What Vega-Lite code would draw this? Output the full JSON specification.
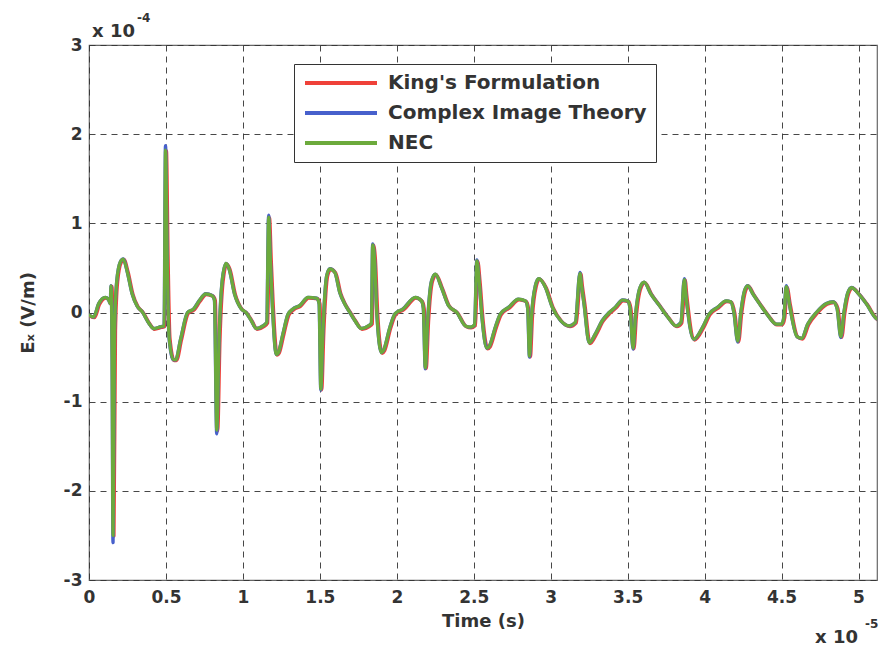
{
  "$schema": "https://vega.github.io/schema/vega-lite/v6.json",
  "width": 788,
  "height": 535,
  "autosize": {"type": "none"},
  "padding": {"left": 89, "top": 45, "right": 3, "bottom": 67},
  "background": "white",
  "config": {
    "font": "DejaVu Sans",
    "view": {"stroke": "#666666", "strokeWidth": 1.2},
    "axis": {
      "labelFont": "DejaVu Sans",
      "labelFontSize": 17,
      "labelFontWeight": "bold",
      "labelColor": "#333333",
      "titleFont": "DejaVu Sans",
      "titleFontSize": 18,
      "titleFontWeight": "bold",
      "titleColor": "#333333",
      "domain": false,
      "ticks": false,
      "gridColor": "#333333",
      "gridDash": [6, 5],
      "gridWidth": 1,
      "gridOpacity": 0.9
    }
  },
  "datasets": {
    "ex": [
      {"t": 0, "king": -0.03, "cit": -0.03, "nec": -0.03},
      {"t": 0.03, "king": -0.05, "cit": -0.05, "nec": -0.05},
      {"t": 0.063, "king": 0.10, "cit": 0.10, "nec": 0.10},
      {"t": 0.106, "king": 0.17, "cit": 0.17, "nec": 0.17},
      {"t": 0.128, "king": 0.14, "cit": 0.14, "nec": 0.14},
      {"t": 0.138, "king": 0.10, "cit": 0.10, "nec": 0.10},
      {"t": 0.143, "king": 0.30, "cit": 0.30, "nec": 0.30},
      {"t": 0.150, "king": -0.5, "cit": -0.5, "nec": -0.5},
      {"t": 0.156, "king": -2.50, "cit": -2.58, "nec": -2.50},
      {"t": 0.166, "king": -0.2, "cit": -0.2, "nec": -0.2},
      {"t": 0.18, "king": 0.35, "cit": 0.35, "nec": 0.35},
      {"t": 0.204, "king": 0.57, "cit": 0.57, "nec": 0.57},
      {"t": 0.222, "king": 0.60, "cit": 0.60, "nec": 0.60},
      {"t": 0.248, "king": 0.46, "cit": 0.46, "nec": 0.46},
      {"t": 0.28, "king": 0.21, "cit": 0.21, "nec": 0.21},
      {"t": 0.313, "king": 0.07, "cit": 0.07, "nec": 0.07},
      {"t": 0.345, "king": 0.01, "cit": 0.01, "nec": 0.01},
      {"t": 0.389, "king": -0.12, "cit": -0.12, "nec": -0.12},
      {"t": 0.42, "king": -0.18, "cit": -0.18, "nec": -0.18},
      {"t": 0.465, "king": -0.16, "cit": -0.16, "nec": -0.16},
      {"t": 0.488, "king": -0.15, "cit": -0.15, "nec": -0.15},
      {"t": 0.497, "king": 1.82, "cit": 1.87, "nec": 1.82},
      {"t": 0.508, "king": 0.6, "cit": 0.6, "nec": 0.6},
      {"t": 0.52, "king": -0.28, "cit": -0.28, "nec": -0.28},
      {"t": 0.548, "king": -0.53, "cit": -0.53, "nec": -0.53},
      {"t": 0.563, "king": -0.53, "cit": -0.53, "nec": -0.53},
      {"t": 0.595, "king": -0.30, "cit": -0.30, "nec": -0.30},
      {"t": 0.64, "king": 0.0, "cit": 0.0, "nec": 0.0},
      {"t": 0.68, "king": 0.04, "cit": 0.04, "nec": 0.04},
      {"t": 0.715, "king": 0.13, "cit": 0.13, "nec": 0.13},
      {"t": 0.758, "king": 0.21, "cit": 0.21, "nec": 0.21},
      {"t": 0.80, "king": 0.19, "cit": 0.19, "nec": 0.19},
      {"t": 0.815, "king": 0.14, "cit": 0.14, "nec": 0.14},
      {"t": 0.83, "king": -1.32, "cit": -1.36, "nec": -1.32},
      {"t": 0.845, "king": -0.3, "cit": -0.3, "nec": -0.3},
      {"t": 0.865, "king": 0.35, "cit": 0.35, "nec": 0.35},
      {"t": 0.89, "king": 0.55, "cit": 0.55, "nec": 0.55},
      {"t": 0.91, "king": 0.49, "cit": 0.49, "nec": 0.49},
      {"t": 0.945, "king": 0.21, "cit": 0.21, "nec": 0.21},
      {"t": 0.99, "king": 0.04, "cit": 0.04, "nec": 0.04},
      {"t": 1.02, "king": 0.0, "cit": 0.0, "nec": 0.0},
      {"t": 1.054, "king": -0.09, "cit": -0.09, "nec": -0.09},
      {"t": 1.087, "king": -0.18, "cit": -0.18, "nec": -0.18},
      {"t": 1.13, "king": -0.15, "cit": -0.15, "nec": -0.15},
      {"t": 1.155, "king": -0.11, "cit": -0.11, "nec": -0.11},
      {"t": 1.167, "king": 1.07, "cit": 1.09, "nec": 1.07},
      {"t": 1.178, "king": 0.6, "cit": 0.6, "nec": 0.6},
      {"t": 1.19, "king": 0.13, "cit": 0.13, "nec": 0.13},
      {"t": 1.217, "king": -0.47, "cit": -0.47, "nec": -0.47},
      {"t": 1.23, "king": -0.45, "cit": -0.45, "nec": -0.45},
      {"t": 1.26, "king": -0.24, "cit": -0.24, "nec": -0.24},
      {"t": 1.293, "king": -0.02, "cit": -0.02, "nec": -0.02},
      {"t": 1.325, "king": 0.04, "cit": 0.04, "nec": 0.04},
      {"t": 1.37, "king": 0.08, "cit": 0.08, "nec": 0.08},
      {"t": 1.423, "king": 0.17, "cit": 0.17, "nec": 0.17},
      {"t": 1.48, "king": 0.16, "cit": 0.16, "nec": 0.16},
      {"t": 1.495, "king": 0.10, "cit": 0.10, "nec": 0.10},
      {"t": 1.506, "king": -0.86, "cit": -0.87, "nec": -0.86},
      {"t": 1.52, "king": -0.2, "cit": -0.2, "nec": -0.2},
      {"t": 1.545, "king": 0.42, "cit": 0.42, "nec": 0.42},
      {"t": 1.565, "king": 0.49, "cit": 0.49, "nec": 0.49},
      {"t": 1.597, "king": 0.45, "cit": 0.45, "nec": 0.45},
      {"t": 1.63, "king": 0.22, "cit": 0.22, "nec": 0.22},
      {"t": 1.66, "king": 0.10, "cit": 0.10, "nec": 0.10},
      {"t": 1.695, "king": 0.0, "cit": 0.0, "nec": 0.0},
      {"t": 1.727, "king": -0.09, "cit": -0.09, "nec": -0.09},
      {"t": 1.77, "king": -0.18, "cit": -0.18, "nec": -0.18},
      {"t": 1.815, "king": -0.15, "cit": -0.15, "nec": -0.15},
      {"t": 1.835, "king": -0.12, "cit": -0.12, "nec": -0.12},
      {"t": 1.843, "king": 0.76, "cit": 0.77, "nec": 0.76},
      {"t": 1.855, "king": 0.6, "cit": 0.6, "nec": 0.6},
      {"t": 1.87, "king": -0.01, "cit": -0.01, "nec": -0.01},
      {"t": 1.9, "king": -0.45, "cit": -0.45, "nec": -0.45},
      {"t": 1.915, "king": -0.42, "cit": -0.42, "nec": -0.42},
      {"t": 1.955, "king": -0.165, "cit": -0.165, "nec": -0.165},
      {"t": 1.988, "king": -0.015, "cit": -0.015, "nec": -0.015},
      {"t": 2.04, "king": 0.04, "cit": 0.04, "nec": 0.04},
      {"t": 2.12, "king": 0.17, "cit": 0.17, "nec": 0.17},
      {"t": 2.16, "king": 0.13, "cit": 0.13, "nec": 0.13},
      {"t": 2.172, "king": 0.05, "cit": 0.05, "nec": 0.05},
      {"t": 2.185, "king": -0.62, "cit": -0.63, "nec": -0.62},
      {"t": 2.2, "king": -0.1, "cit": -0.1, "nec": -0.1},
      {"t": 2.225, "king": 0.35, "cit": 0.35, "nec": 0.35},
      {"t": 2.25, "king": 0.43, "cit": 0.43, "nec": 0.43},
      {"t": 2.29, "king": 0.28, "cit": 0.28, "nec": 0.28},
      {"t": 2.335, "king": 0.08, "cit": 0.08, "nec": 0.08},
      {"t": 2.39, "king": 0.0, "cit": 0.0, "nec": 0.0},
      {"t": 2.445, "king": -0.15, "cit": -0.15, "nec": -0.15},
      {"t": 2.477, "king": -0.165, "cit": -0.165, "nec": -0.165},
      {"t": 2.505, "king": -0.14, "cit": -0.14, "nec": -0.14},
      {"t": 2.52, "king": 0.58, "cit": 0.59, "nec": 0.58},
      {"t": 2.535, "king": 0.35, "cit": 0.35, "nec": 0.35},
      {"t": 2.553, "king": -0.05, "cit": -0.05, "nec": -0.05},
      {"t": 2.585, "king": -0.40, "cit": -0.40, "nec": -0.40},
      {"t": 2.60, "king": -0.38, "cit": -0.38, "nec": -0.38},
      {"t": 2.64, "king": -0.165, "cit": -0.165, "nec": -0.165},
      {"t": 2.673, "king": -0.015, "cit": -0.015, "nec": -0.015},
      {"t": 2.727, "king": 0.06, "cit": 0.06, "nec": 0.06},
      {"t": 2.79, "king": 0.15, "cit": 0.15, "nec": 0.15},
      {"t": 2.836, "king": 0.13, "cit": 0.13, "nec": 0.13},
      {"t": 2.85, "king": 0.05, "cit": 0.05, "nec": 0.05},
      {"t": 2.862, "king": -0.49, "cit": -0.50, "nec": -0.49},
      {"t": 2.875, "king": -0.05, "cit": -0.05, "nec": -0.05},
      {"t": 2.90, "king": 0.3, "cit": 0.3, "nec": 0.3},
      {"t": 2.922, "king": 0.38, "cit": 0.38, "nec": 0.38},
      {"t": 2.966, "king": 0.28, "cit": 0.28, "nec": 0.28},
      {"t": 3.01, "king": 0.06, "cit": 0.06, "nec": 0.06},
      {"t": 3.064, "king": -0.09, "cit": -0.09, "nec": -0.09},
      {"t": 3.12, "king": -0.15, "cit": -0.15, "nec": -0.15},
      {"t": 3.16, "king": -0.11, "cit": -0.11, "nec": -0.11},
      {"t": 3.19, "king": 0.44, "cit": 0.45, "nec": 0.44},
      {"t": 3.2, "king": 0.3, "cit": 0.3, "nec": 0.3},
      {"t": 3.216, "king": 0.1, "cit": 0.1, "nec": 0.1},
      {"t": 3.25, "king": -0.34, "cit": -0.34, "nec": -0.34},
      {"t": 3.29, "king": -0.24, "cit": -0.24, "nec": -0.24},
      {"t": 3.335, "king": -0.09, "cit": -0.09, "nec": -0.09},
      {"t": 3.38, "king": 0.0, "cit": 0.0, "nec": 0.0},
      {"t": 3.42, "king": 0.06, "cit": 0.06, "nec": 0.06},
      {"t": 3.466, "king": 0.14, "cit": 0.14, "nec": 0.14},
      {"t": 3.5, "king": 0.13, "cit": 0.13, "nec": 0.13},
      {"t": 3.515, "king": 0.05, "cit": 0.05, "nec": 0.05},
      {"t": 3.535, "king": -0.40, "cit": -0.41, "nec": -0.40},
      {"t": 3.55, "king": -0.05, "cit": -0.05, "nec": -0.05},
      {"t": 3.58, "king": 0.28, "cit": 0.28, "nec": 0.28},
      {"t": 3.607, "king": 0.34, "cit": 0.34, "nec": 0.34},
      {"t": 3.65, "king": 0.21, "cit": 0.21, "nec": 0.21},
      {"t": 3.705, "king": 0.08, "cit": 0.08, "nec": 0.08},
      {"t": 3.76, "king": -0.05, "cit": -0.05, "nec": -0.05},
      {"t": 3.814, "king": -0.15, "cit": -0.15, "nec": -0.15},
      {"t": 3.846, "king": -0.11, "cit": -0.11, "nec": -0.11},
      {"t": 3.868, "king": 0.37, "cit": 0.38, "nec": 0.37},
      {"t": 3.878, "king": 0.2, "cit": 0.2, "nec": 0.2},
      {"t": 3.93, "king": -0.30, "cit": -0.30, "nec": -0.30},
      {"t": 3.987, "king": -0.165, "cit": -0.165, "nec": -0.165},
      {"t": 4.03, "king": -0.015, "cit": -0.015, "nec": -0.015},
      {"t": 4.085, "king": 0.06, "cit": 0.06, "nec": 0.06},
      {"t": 4.14, "king": 0.13, "cit": 0.13, "nec": 0.13},
      {"t": 4.17, "king": 0.12, "cit": 0.12, "nec": 0.12},
      {"t": 4.19, "king": 0.0, "cit": 0.0, "nec": 0.0},
      {"t": 4.215, "king": -0.32, "cit": -0.33, "nec": -0.32},
      {"t": 4.235, "king": 0.0, "cit": 0.0, "nec": 0.0},
      {"t": 4.26, "king": 0.25, "cit": 0.25, "nec": 0.25},
      {"t": 4.28, "king": 0.30, "cit": 0.30, "nec": 0.30},
      {"t": 4.313, "king": 0.21, "cit": 0.21, "nec": 0.21},
      {"t": 4.356, "king": 0.10, "cit": 0.10, "nec": 0.10},
      {"t": 4.41, "king": -0.03, "cit": -0.03, "nec": -0.03},
      {"t": 4.465, "king": -0.13, "cit": -0.13, "nec": -0.13},
      {"t": 4.5, "king": -0.13, "cit": -0.13, "nec": -0.13},
      {"t": 4.515, "king": -0.05, "cit": -0.05, "nec": -0.05},
      {"t": 4.53, "king": 0.29, "cit": 0.30, "nec": 0.29},
      {"t": 4.55, "king": 0.1, "cit": 0.1, "nec": 0.1},
      {"t": 4.60, "king": -0.27, "cit": -0.27, "nec": -0.27},
      {"t": 4.63, "king": -0.29, "cit": -0.29, "nec": -0.29},
      {"t": 4.67, "king": -0.13, "cit": -0.13, "nec": -0.13},
      {"t": 4.726, "king": 0.0, "cit": 0.0, "nec": 0.0},
      {"t": 4.79, "king": 0.10, "cit": 0.10, "nec": 0.10},
      {"t": 4.835, "king": 0.12, "cit": 0.12, "nec": 0.12},
      {"t": 4.86, "king": 0.05, "cit": 0.05, "nec": 0.05},
      {"t": 4.885, "king": -0.27, "cit": -0.28, "nec": -0.27},
      {"t": 4.905, "king": 0.0, "cit": 0.0, "nec": 0.0},
      {"t": 4.93, "king": 0.22, "cit": 0.22, "nec": 0.22},
      {"t": 4.955, "king": 0.28, "cit": 0.28, "nec": 0.28},
      {"t": 5.0, "king": 0.21, "cit": 0.21, "nec": 0.21},
      {"t": 5.05, "king": 0.10, "cit": 0.10, "nec": 0.10},
      {"t": 5.117, "king": -0.07, "cit": -0.07, "nec": -0.07},
      {"t": 5.13, "king": -0.08, "cit": -0.08, "nec": -0.08}
    ]
  },
  "data": {"name": "ex"},
  "encoding": {
    "x": {
      "field": "t",
      "type": "quantitative",
      "scale": {"domain": [0, 5.12], "nice": false, "zero": false},
      "axis": {
        "values": [0, 0.5, 1, 1.5, 2, 2.5, 3, 3.5, 4, 4.5, 5],
        "format": "~g",
        "title": "Time (s)",
        "labelPadding": 9,
        "titlePadding": 7,
        "labelFlush": false
      }
    }
  },
  "layer": [
    {
      "mark": {"type": "line", "strokeWidth": 3.6, "xOffset": 0.8, "yOffset": 0.6, "clip": true, "interpolate": "monotone", "strokeJoin": "round", "strokeCap": "round"},
      "encoding": {
        "y": {
          "field": "king",
          "type": "quantitative",
          "scale": {"domain": [-3, 3], "nice": false},
          "axis": {
            "values": [-3, -2, -1, 0, 1, 2, 3],
            "labelExpr": "'' + datum.value",
            "title": "Eₓ (V/m)",
            "labelPadding": 7,
            "titlePadding": 26
          }
        },
        "color": {
          "datum": "King's Formulation",
          "type": "nominal",
          "scale": {
            "domain": ["King's Formulation", "Complex Image Theory", "NEC"],
            "range": ["#ef4139", "#4760cc", "#6caa3c"]
          },
          "legend": {
            "orient": "none",
            "legendX": 205,
            "legendY": 19,
            "title": null,
            "symbolType": "stroke",
            "symbolSize": 5184,
            "symbolStrokeWidth": 4,
            "clipHeight": 20,
            "rowPadding": 10,
            "labelFont": "DejaVu Sans",
            "labelFontSize": 20,
            "labelFontWeight": "bold",
            "labelColor": "#333333",
            "labelOffset": 9,
            "labelLimit": 400,
            "strokeColor": "#333333",
            "fillColor": "white",
            "padding": 9
          }
        }
      }
    },
    {
      "mark": {"type": "line", "strokeWidth": 3.4, "clip": true, "interpolate": "monotone", "strokeJoin": "round", "strokeCap": "round"},
      "encoding": {
        "y": {"field": "cit", "type": "quantitative"},
        "color": {"datum": "Complex Image Theory", "type": "nominal"}
      }
    },
    {
      "mark": {"type": "line", "strokeWidth": 3.2, "clip": true, "interpolate": "monotone", "strokeJoin": "round", "strokeCap": "round"},
      "encoding": {
        "y": {"field": "nec", "type": "quantitative"},
        "color": {"datum": "NEC", "type": "nominal"}
      }
    },
    {
      "data": {"values": [{"t": 0, "v": 3, "s": "x 10"}]},
      "mark": {"type": "text", "align": "left", "baseline": "alphabetic", "dx": 3, "dy": -8, "fontSize": 18, "fontWeight": "bold", "color": "#333333"},
      "encoding": {"y": {"field": "v", "type": "quantitative"}, "text": {"field": "s"}}
    },
    {
      "data": {"values": [{"t": 0, "v": 3, "s": "-4"}]},
      "mark": {"type": "text", "align": "left", "baseline": "alphabetic", "dx": 48, "dy": -23, "fontSize": 12, "fontWeight": "bold", "color": "#333333"},
      "encoding": {"y": {"field": "v", "type": "quantitative"}, "text": {"field": "s"}}
    },
    {
      "data": {"values": [{"t": 5.12, "v": -3, "s": "x 10"}]},
      "mark": {"type": "text", "align": "left", "baseline": "alphabetic", "dx": -62, "dy": 63, "fontSize": 18, "fontWeight": "bold", "color": "#333333"},
      "encoding": {"y": {"field": "v", "type": "quantitative"}, "text": {"field": "s"}}
    },
    {
      "data": {"values": [{"t": 5.12, "v": -3, "s": "-5"}]},
      "mark": {"type": "text", "align": "left", "baseline": "alphabetic", "dx": -12, "dy": 48, "fontSize": 12, "fontWeight": "bold", "color": "#333333"},
      "encoding": {"y": {"field": "v", "type": "quantitative"}, "text": {"field": "s"}}
    }
  ]
}
